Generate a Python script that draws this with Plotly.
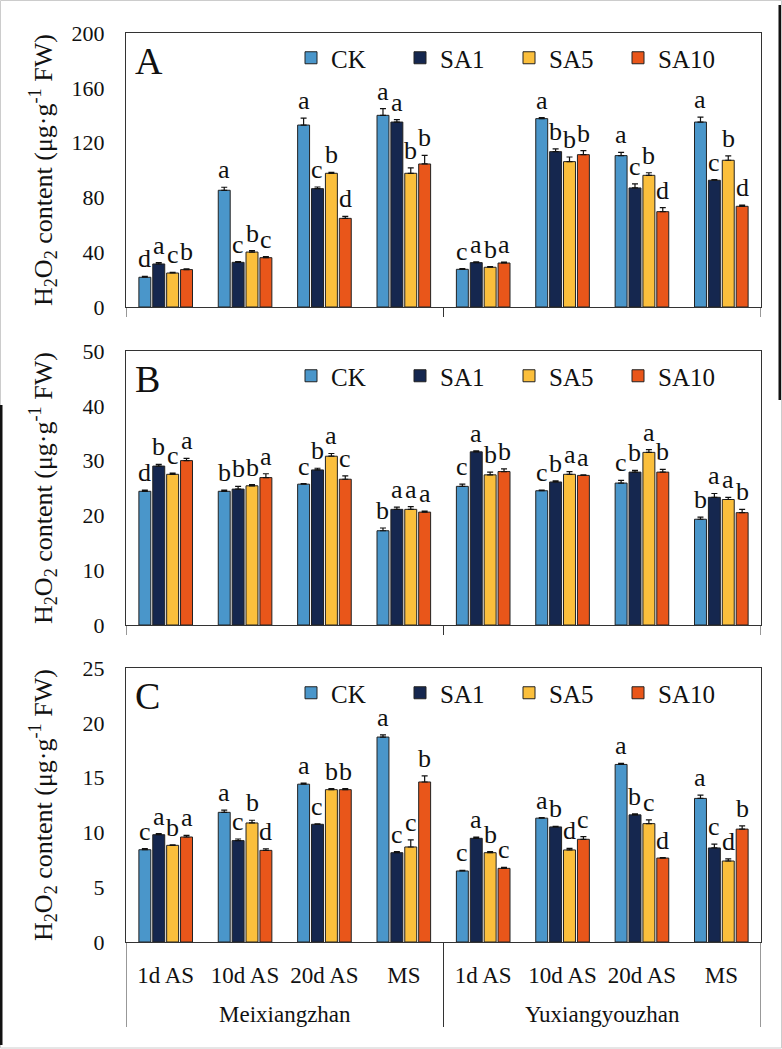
import plotly.graph_objects as go

# ---------------- data ----------------
periods = ["1d AS", "10d AS", "20d AS", "MS", "1d AS", "10d AS", "20d AS", "MS"]
varieties = ["Meixiangzhan", "Yuxiangyouzhan"]
treatments = ["CK", "SA1", "SA5", "SA10"]

# Panel A
A_CK = [21.7, 85.2, 132.8, 139.9, 27.5, 137.5, 110.5, 135.0]
A_SA1 = [31.4, 32.6, 86.4, 135.0, 32.4, 113.4, 86.9, 92.5]
A_SA5 = [24.8, 40.1, 97.6, 97.6, 29.0, 106.1, 96.1, 107.1]
A_SA10 = [27.3, 36.0, 64.7, 104.4, 32.1, 111.2, 69.6, 73.5]
A_CK_err = [0.6, 2.2, 5.0, 4.9, 0.6, 0.8, 2.4, 3.6]
A_SA1_err = [1.0, 0.6, 1.2, 1.7, 0.6, 2.0, 2.9, 0.5]
A_SA5_err = [0.5, 1.0, 0.6, 3.9, 0.5, 3.4, 1.9, 3.2]
A_SA10_err = [0.6, 0.8, 1.5, 6.3, 0.6, 2.9, 2.9, 0.8]
A_CK_lab = ["d", "a", "a", "a", "c", "a", "a", "a"]
A_SA1_lab = ["a", "c", "c", "a", "a", "b", "c", "c"]
A_SA5_lab = ["c", "b", "b", "b", "b", "b", "b", "b"]
A_SA10_lab = ["b", "c", "d", "b", "a", "b", "d", "d"]

# Panel B
B_CK = [24.4, 24.4, 25.7, 17.2, 25.3, 24.5, 25.9, 19.3]
B_SA1 = [29.0, 24.8, 28.3, 21.1, 31.6, 26.1, 27.9, 23.3]
B_SA5 = [27.5, 25.4, 30.8, 21.1, 27.4, 27.5, 31.5, 22.9]
B_SA10 = [30.0, 26.9, 26.6, 20.6, 28.0, 27.3, 27.9, 20.5]
B_CK_err = [0.2, 0.2, 0.1, 0.5, 0.4, 0.1, 0.5, 0.4]
B_SA1_err = [0.3, 0.5, 0.3, 0.4, 0.2, 0.2, 0.3, 0.7]
B_SA5_err = [0.2, 0.2, 0.5, 0.5, 0.5, 0.5, 0.5, 0.4]
B_SA10_err = [0.4, 0.7, 0.6, 0.2, 0.5, 0.1, 0.5, 0.6]
B_CK_lab = ["d", "b", "c", "b", "c", "c", "c", "b"]
B_SA1_lab = ["b", "b", "b", "a", "a", "b", "b", "a"]
B_SA5_lab = ["c", "b", "a", "a", "b", "a", "a", "a"]
B_SA10_lab = ["a", "a", "c", "a", "b", "a", "b", "b"]

# Panel C
C_CK = [8.42, 11.83, 14.4, 18.7, 6.48, 11.3, 16.2, 13.1]
C_SA1 = [9.79, 9.25, 10.74, 8.15, 9.46, 10.5, 11.6, 8.58]
C_SA5 = [8.82, 10.86, 13.9, 8.67, 8.15, 8.4, 10.8, 7.39]
C_SA10 = [9.58, 8.36, 13.9, 14.6, 6.72, 9.37, 7.66, 10.3]
C_CK_err = [0.1, 0.2, 0.1, 0.2, 0.05, 0.05, 0.1, 0.3]
C_SA1_err = [0.1, 0.15, 0.05, 0.1, 0.1, 0.05, 0.1, 0.35]
C_SA5_err = [0.05, 0.25, 0.1, 0.65, 0.1, 0.15, 0.35, 0.2]
C_SA10_err = [0.15, 0.15, 0.1, 0.55, 0.1, 0.25, 0.05, 0.3]
C_CK_lab = ["c", "a", "a", "a", "c", "a", "a", "a"]
C_SA1_lab = ["a", "c", "c", "c", "a", "b", "b", "c"]
C_SA5_lab = ["b", "b", "b", "c", "b", "d", "c", "d"]
C_SA10_lab = ["a", "d", "b", "b", "c", "c", "d", "b"]

panel_names = ["A", "B", "C"]
y_max = [200, 50, 25]
y_step = [40, 10, 5]

colors = ["#4A96CA", "#15274F", "#FBBF3C", "#E9561A"]

panels = [
    ([A_CK, A_SA1, A_SA5, A_SA10], [A_CK_err, A_SA1_err, A_SA5_err, A_SA10_err],
     [A_CK_lab, A_SA1_lab, A_SA5_lab, A_SA10_lab]),
    ([B_CK, B_SA1, B_SA5, B_SA10], [B_CK_err, B_SA1_err, B_SA5_err, B_SA10_err],
     [B_CK_lab, B_SA1_lab, B_SA5_lab, B_SA10_lab]),
    ([C_CK, C_SA1, C_SA5, C_SA10], [C_CK_err, C_SA1_err, C_SA5_err, C_SA10_err],
     [C_CK_lab, C_SA1_lab, C_SA5_lab, C_SA10_lab]),
]

# ---------------- layout geometry (pixels) ----------------
W, H = 782, 1049
L, R, T, B = 126, 21, 33, 107
pw, ph = W - L - R, H - T - B
panel_px = [(33, 307), (351, 625), (668, 942)]  # top, bottom of each plot area


def xp(px):
    return (px - L) / pw


def yp(py):
    return (H - B - py) / ph


FONT = "Liberation Serif"
BARGAP = 0.3
GROUPGAP = 0.14
n_groups = len(periods)
xs = list(range(n_groups))
slot = (1 - BARGAP) / len(treatments)

fig = go.Figure()
annotations = []
shapes = []
layout = {}

for p, (vals, errs, labs) in enumerate(panels):
    sfx = "" if p == 0 else str(p + 1)
    xa, ya = "x" + sfx, "y" + sfx
    leg = "legend" + sfx
    for k, t in enumerate(treatments):
        fig.add_trace(go.Bar(
            x=xs, y=vals[k], name=t, xaxis=xa, yaxis=ya, legend=leg,
            marker=dict(color=colors[k], line=dict(color="#222222", width=1)),
            error_y=dict(type="data", array=errs[k], arrayminus=[0] * n_groups,
                         symmetric=False, color="#111111", thickness=1.2, width=3),
            showlegend=True,
        ))
        # significance letters
        for i in xs:
            annotations.append(dict(
                x=i + (k - 1.5) * slot, y=vals[k][i] + errs[k][i], xref=xa, yref=ya,
                text=labs[k][i], showarrow=False, yanchor="bottom", yshift=1,
                font=dict(family=FONT, size=26, color="#111111"),
            ))
    top, bot = panel_px[p]
    dom = [yp(bot), yp(top)]
    layout["xaxis" + sfx] = dict(
        domain=[0, 1], anchor=ya, range=[-0.5, n_groups - 0.5],
        tickvals=xs, ticktext=periods, showticklabels=(p == 2), ticks="",
        tickangle=0,
        tickfont=dict(family=FONT, size=23, color="#111111"), ticklabelstandoff=12,
        showline=True, linecolor="#333333", linewidth=1, mirror=True,
        showgrid=False, zeroline=False, fixedrange=True,
    )
    layout["yaxis" + sfx] = dict(
        domain=dom, anchor=xa, range=[0, y_max[p]], dtick=y_step[p], tick0=0,
        ticks="", tickfont=dict(family=FONT, size=22, color="#111111"),
        ticklabelstandoff=16, showline=True, linecolor="#333333", linewidth=1,
        mirror=True, showgrid=False, zeroline=False,
    )
    layout[leg] = dict(
        orientation="h", x=xp(291), y=yp(top + 25), xref="paper", yref="paper",
        xanchor="left", yanchor="middle", bgcolor="rgba(0,0,0,0)",
        font=dict(family=FONT, size=25, color="#111111"),
        itemwidth=30, entrywidth=64, traceorder="normal",
    )
    # panel letter
    annotations.append(dict(
        x=xp(133), y=yp(top + 28), xref="paper", yref="paper", text=panel_names[p],
        showarrow=False, xanchor="left", yanchor="middle",
        font=dict(family=FONT, size=38, color="#111111"),
    ))
    # y title
    annotations.append(dict(
        x=xp(43), y=(dom[0] + dom[1]) / 2, xref="paper", yref="paper",
        text="H<sub>2</sub>O<sub>2</sub> content (μg·g<sup>-1</sup> FW)",
        textangle=-90, showarrow=False, xanchor="center", yanchor="middle",
        font=dict(family=FONT, size=26, color="#111111"),
    ))
    # group boundary lines below the axis
    n_per = n_groups // len(varieties)
    bounds = [-0.5 + j * n_per for j in range(len(varieties) + 1)]
    depth = (942 - 1027) / 274 if p == 2 else -10 / 274
    for bx in bounds:
        shapes.append(dict(type="line", xref=xa, yref=ya + " domain", x0=bx, x1=bx,
                           y0=0, y1=depth, line=dict(color="#333333", width=1)))
    if p == 2:
        for j, v in enumerate(varieties):
            annotations.append(dict(
                x=(bounds[j] + bounds[j + 1]) / 2, y=-72 / 274, xref=xa, yref=ya + " domain",
                text=v, showarrow=False, yanchor="middle",
                font=dict(family=FONT, size=23, color="#111111"),
            ))

# scan border artifacts
shapes += [
    dict(type="rect", xref="paper", yref="paper", x0=xp(0.5), x1=xp(781.5), y0=yp(1048), y1=yp(0.5),
         line=dict(color="#cccccc", width=1)),
    dict(type="rect", xref="paper", yref="paper", x0=xp(0), x1=xp(2.5), y0=yp(1045), y1=yp(405),
         fillcolor="#111111", line=dict(width=0)),
    dict(type="rect", xref="paper", yref="paper", x0=xp(778.5), x1=xp(781), y0=yp(400), y1=yp(5),
         fillcolor="#111111", line=dict(width=0)),
]

fig.update_layout(
    width=W, height=H, margin=dict(l=L, r=R, t=T, b=B, autoexpand=False),
    paper_bgcolor="white", plot_bgcolor="white",
    barmode="group", bargap=BARGAP, bargroupgap=GROUPGAP,
    annotations=annotations, shapes=shapes, **layout,
)

fig.write_html("out.html")
